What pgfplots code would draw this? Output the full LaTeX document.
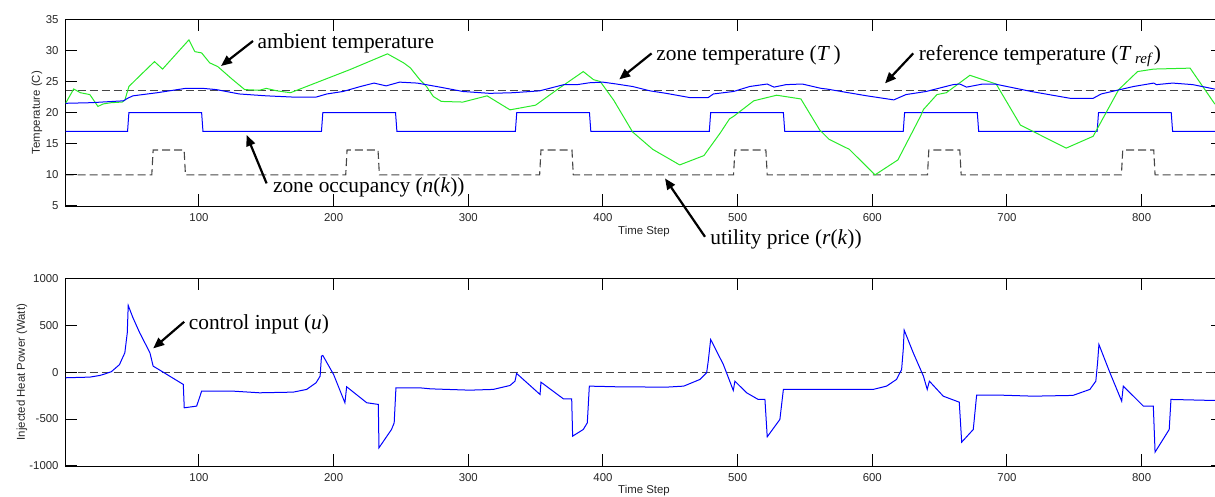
\documentclass[border=0pt]{standalone}
\usepackage{fontspec}
\setmainfont{Liberation Sans}
\newfontfamily\annfont{Liberation Serif}
\usepackage{pgfplots}
\pgfplotsset{compat=1.18}
\usetikzlibrary{arrows.meta}

\definecolor{zoneblue}{RGB}{0,0,255}
\definecolor{ambgreen}{RGB}{40,235,40}
\definecolor{dashgray}{RGB}{70,70,70}

\pgfplotsset{
  mlab/.style={
    scale only axis,
    width=578.4pt,
    xmin=1, xmax=860,
    xtick={100,200,...,800},
    tick align=inside,
    xtick pos=both, ytick pos=both,
    tickwidth=5.75pt,
    xtick style={draw=black, line width=0.5pt},
    ytick style={draw=black, line width=0.5pt},
    tick label style={font=\fontsize{5.7}{6.5}\selectfont, text=black!85},
    xlabel style={font=\fontsize{5.7}{6.5}\selectfont, text=black!85, anchor=center},
    ylabel style={font=\fontsize{5.7}{6.5}\selectfont, text=black!85, anchor=center},
    /pgf/number format/assume math mode=true,
    /pgf/number format/set thousands separator={},
    scaled ticks=false,
    xlabel={Time Step},
  },
}
\tikzset{
  ann/.style={font=\annfont\fontsize{10.7}{12}\selectfont, inner sep=0pt, anchor=base west},
  arr/.style={line width=1.1pt, -{Triangle[length=5.5pt,width=4.5pt]}},
  tk/.style={black, line width=0.5pt},
}

\begin{document}
\begin{tikzpicture}
\useasboundingbox (0,0) rectangle (607.5pt,248.5pt);

% top: temperatures, occupancy and price
\begin{axis}[mlab,
    at={(32.8pt,145.5pt)}, anchor=south west,
    height=93.35pt,
    ymin=5, ymax=35, ytick={5,10,...,35},
    ylabel={Temperature (C)},
    xlabel style={at={(axis description cs:0.5,-0.1377)}},
    ylabel style={at={(axis description cs:-0.0247,0.5)}},
  ]
  % reference temperature
  \addplot[dashgray, line width=0.55pt, dash pattern=on 4pt off 2pt] coordinates {(1,23.5) (860,23.5)};
  % utility price
  \addplot[dashgray, line width=0.55pt, dash pattern=on 4pt off 2pt] coordinates {
    (1,10) (65,10) (66,14) (89,14) (90,10) (209,10) (210,14) (233,14) (234,10)
    (353,10) (354,14) (377,14) (378,10) (497,10) (498,14) (521,14) (522,10)
    (641,10) (642,14) (665,14) (666,10) (785,10) (786,14) (809,14) (810,10) (860,10)};
  % zone occupancy
  \addplot[zoneblue, line width=0.5pt] coordinates {
    (1,17) (47,17) (48,20) (102,20) (103,17) (191,17) (192,20) (246,20) (247,17)
    (335,17) (336,20) (390,20) (391,17) (479,17) (480,20) (534,20) (535,17)
    (623,17) (624,20) (678,20) (679,17) (767,17) (768,20) (822,20) (823,17) (860,17)};
  % ambient temperature
  \addplot[ambgreen, line width=0.5pt] coordinates {
    (1,21.5) (7,23.8) (12,23.2) (19,22.9) (25,21.0) (29,21.4) (35,21.6) (43,21.7)
    (45,22.0) (48,24.2) (56,25.9) (67,28.2) (73,27.0) (92.6,31.7) (97,29.8)
    (102,29.6) (108,28.0) (114,27.4) (124,25.5) (134,23.7) (145,23.6) (150,23.9)
    (158,23.5) (168,23.2) (212,26.9) (240,29.45) (252,28.0) (257,27.2) (264,25.3)
    (269,24.2) (274,22.6) (280,21.8) (296,21.7) (314,22.7) (331,20.45) (350,21.2)
    (366,23.7) (385.4,26.6) (393,25.3) (398,25.0) (408,22.0) (422,16.9) (437,14.1)
    (457,11.6) (475,13.1) (487,16.7) (494,19.0) (497,19.4) (512,21.9) (529,22.8)
    (547,22.2) (561,17.2) (568,15.7) (583,14.1) (602,10.0) (619,12.4) (636,19.5)
    (638,20.5) (648,22.9) (655,23.2) (672.5,26.0) (692,24.6) (710,18.0) (744,14.3)
    (764,16.2) (783,23.7) (797,26.6) (809,27.0) (836,27.15) (854,21.5) (860,20.2)};
  % zone temperature
  \addplot[zoneblue, line width=0.5pt] coordinates {
    (1,21.5) (20,21.6) (44,21.9) (47,22.3) (51,22.7) (69,23.2) (90,23.9) (103,23.9)
    (113,23.7) (130,23.0) (150,22.7) (170,22.5) (187,22.5) (195,23.0) (207,23.4)
    (220,24.2) (230,24.75) (237,24.4) (239,24.3) (249,24.9) (262,24.75) (279,24.1)
    (296,23.4) (316,23.1) (333,23.2) (353,23.5) (371,24.5) (381,24.5) (390,24.8)
    (400,24.9) (410,24.6) (422,24.2) (435,23.5) (447,23.1) (465,22.4) (478,22.4)
    (482,23.0) (497,23.4) (509,24.2) (522,24.6) (527,24.1) (536,24.5) (548,24.6)
    (562,23.9) (566,23.8) (596,22.7) (616,22.05) (625,22.9) (640,23.4) (660,24.5)
    (665,24.6) (670,24.1) (682,24.6) (691,24.6) (718,23.4) (747,22.3) (764,22.3)
    (770,23.0) (784,23.7) (794,24.2) (809,24.75) (811,24.5) (823,24.75) (838,24.5)
    (854,23.8) (860,23.6)};
  % inward tick marks, both ends in data units (5.75pt = 1.85 deg, 8.5 steps)
  \pgfplotsinvokeforeach{100,200,...,800}{
    \draw[tk] (axis cs:#1,5) -- (axis cs:#1,6.85);
    \draw[tk] (axis cs:#1,35) -- (axis cs:#1,33.15);
  }
  \pgfplotsinvokeforeach{10,15,...,30}{
    \draw[tk] (axis cs:1,#1) -- (axis cs:9.5,#1);
  }
\end{axis}

% bottom: control input
\begin{axis}[mlab,
    at={(32.8pt,15.5pt)}, anchor=south west,
    height=93.85pt,
    ymin=-1000, ymax=1000, ytick={-1000,-500,0,500,1000},
    ylabel={Injected Heat Power (Watt)},
    xlabel style={at={(axis description cs:0.5,-0.1316)}},
    ylabel style={at={(axis description cs:-0.0377,0.5)}},
  ]
  \addplot[dashgray, line width=0.55pt, dash pattern=on 4pt off 2pt] coordinates {(1,0) (860,0)};
  \addplot[zoneblue, line width=0.5pt] coordinates {
    (1,-60) (19,-53) (26.5,-35) (30,-20) (35,5) (41,80) (45,207) (46.8,420)
    (47.5,711) (51,580) (56,420) (63.6,207) (66,64) (71,21) (88.4,-131) (89.1,-380)
    (98.3,-362) (100.8,-256) (102,-202) (125,-202) (145,-220) (170,-213) (180,-184)
    (187,-113) (190,-43) (191,170) (192,178) (200,-25) (208.4,-326) (209.7,-156)
    (224.6,-326) (233.2,-344) (233.7,-806) (243,-611) (245,-540) (246.3,-167)
    (264,-167) (272,-178) (301,-192) (318.6,-184) (331,-142) (334.7,-96) (335.9,-14)
    (353.3,-238) (354,-107) (370.6,-284) (376.8,-284) (377.5,-682) (385.4,-611)
    (388.4,-540) (389.9,-149) (410,-156) (447,-160) (460,-149) (472,-78) (477,-7)
    (478.2,117) (480,348) (489.4,82) (496.8,-195) (498,-96) (506.7,-220)
    (515.3,-291) (520.3,-291) (522,-689) (531.4,-504) (534,-184) (571,-184)
    (600.7,-184) (610.6,-149) (618,-78) (621.8,29) (623,242) (623.7,448)
    (630.4,207) (638,-43) (640.8,-184) (642.4,-96) (652.7,-256) (664.6,-320)
    (666.4,-746) (675,-611) (677.5,-245) (695,-245) (719.5,-256) (749,-248)
    (761.6,-184) (766,-96) (767.3,100) (768.3,295) (776.5,-7) (785.2,-309)
    (786.4,-149) (801.3,-362) (808.7,-362) (810,-852) (820.5,-611) (821.8,-291)
    (854,-302) (860,-303)};
  % inward tick marks (5.75pt = 122 W)
  \pgfplotsinvokeforeach{100,200,...,800}{
    \draw[tk] (axis cs:#1,-1000) -- (axis cs:#1,-878);
    \draw[tk] (axis cs:#1,1000) -- (axis cs:#1,878);
  }
  \pgfplotsinvokeforeach{-500,0,500}{
    \draw[tk] (axis cs:1,#1) -- (axis cs:9.5,#1);
  }
\end{axis}

% annotations
\node[ann] at (128.6pt,224.35pt) {ambient temperature};
\draw[arr] (126.5pt,228pt) -- (110.5pt,215.5pt);
\node[ann] at (328pt,218pt) {zone temperature (\textit{T}\,)};
\draw[arr] (325.8pt,221.8pt) -- (309.6pt,208.8pt);
\node[ann] at (459.2pt,218.2pt) {reference temperature (\textit{T}\,\textsubscript{\textit{ref}})};
\draw[arr] (456.6pt,221.8pt) -- (442.5pt,206.8pt);
\node[ann] at (136.3pt,152.15pt) {zone occupancy (\textit{n}(\textit{k}))};
\draw[arr] (133.3pt,156.8pt) -- (123.3pt,181pt);
\node[ann] at (355pt,126pt) {utility price (\textit{r}(\textit{k}))};
\draw[arr] (352.5pt,130.1pt) -- (332.5pt,159.3pt);
\node[ann] at (94.2pt,83.5pt) {control input (\textit{u})};
\draw[arr] (92.1pt,87.6pt) -- (76.6pt,74.3pt);
\end{tikzpicture}
\end{document}
